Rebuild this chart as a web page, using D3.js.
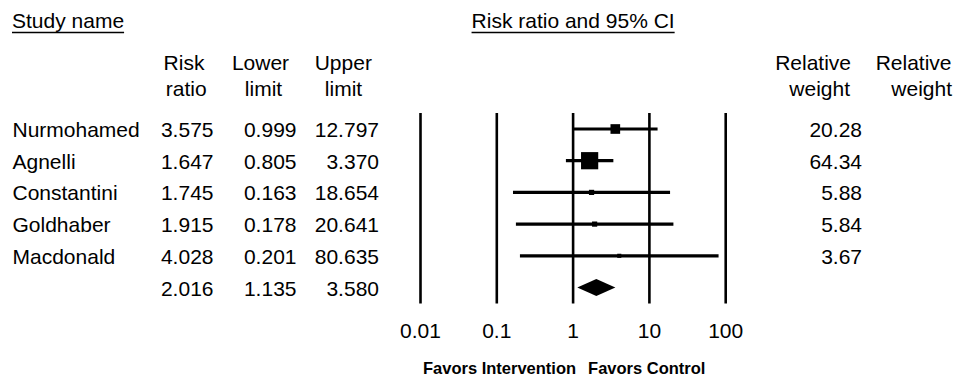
<!DOCTYPE html>
<html><head><meta charset="utf-8">
<script src="https://cdn.jsdelivr.net/npm/d3@7"></script>
<style>
html,body{margin:0;padding:0;background:#fff;}
svg{display:block;}
text{font-family:"Liberation Sans",Arial,Helvetica,sans-serif;fill:#000;}
</style></head>
<body>
<svg id="chart" width="959" height="378"></svg>
<script>
// ---- data ----
const studies      = ["Nurmohamed","Agnelli","Constantini","Goldhaber","Macdonald"];
const riskRatio    = [3.575, 1.647, 1.745, 1.915, 4.028];
const lowerLimit   = [0.999, 0.805, 0.163, 0.178, 0.201];
const upperLimit   = [12.797, 3.370, 18.654, 20.641, 80.635];
const relWeight    = [20.28, 64.34, 5.88, 5.84, 3.67];
const summaryRR    = 2.016;
const summaryLower = 1.135;
const summaryUpper = 3.580;
const axisTicks    = [0.01, 0.1, 1, 10, 100];
const axisTickLabels = ["0.01","0.1","1","10","100"];

// ---- layout ----
const svg = d3.select("#chart");
const FS = 21;
const x = d3.scaleLog().domain([0.01, 100]).range([420.5, 725.7]);
const rowIdx = d3.range(studies.length + 1);
const y = d3.scalePoint().domain(rowIdx).range([129, 287.5]);
const base = i => y(i) + 8;

function txt(t, px, py, anchor, opts = {}) {
  return svg.append("text").attr("x", px).attr("y", py)
    .attr("text-anchor", anchor).attr("font-size", opts.size || FS)
    .attr("font-weight", opts.weight || "normal").text(t);
}
function underline(node, py) {
  const bb = node.node().getBBox();
  svg.append("line").attr("x1", bb.x).attr("x2", bb.x + bb.width)
    .attr("y1", py).attr("y2", py).attr("stroke", "#000").attr("stroke-width", 1.6);
}

// Top headers
underline(txt("Study name", 12, 28, "start"), 32.5);
underline(txt("Risk ratio and 95% CI", x(1), 28, "middle"), 32.5);

// Column headers
txt("Risk", 184, 70, "middle"); txt("ratio", 186.3, 96, "middle");
txt("Lower", 260.5, 70, "middle"); txt("limit", 263.5, 96, "middle");
txt("Upper", 343.3, 70, "middle"); txt("limit", 343.5, 96, "middle");
txt("Relative", 851, 70, "end"); txt("weight", 850, 96, "end");
txt("Relative", 951.5, 70, "end"); txt("weight", 952, 96, "end");

// Table rows
const fmt3 = d3.format(".3f"), fmt2 = d3.format(".2f");
studies.forEach((s, i) => {
  txt(s, 12.5, base(i), "start");
  txt(fmt3(riskRatio[i]), 213.5, base(i), "end");
  txt(fmt3(lowerLimit[i]), 296.5, base(i), "end");
  txt(fmt3(upperLimit[i]), 379, base(i), "end");
  txt(fmt2(relWeight[i]), 862, base(i), "end");
});
const si = studies.length;
txt(fmt3(summaryRR), 213.5, base(si), "end");
txt(fmt3(summaryLower), 296.5, base(si), "end");
txt(fmt3(summaryUpper), 379, base(si), "end");

// Reference vertical lines
svg.selectAll("line.ref").data(axisTicks).enter().append("line")
  .attr("class", "ref")
  .attr("x1", d => x(d)).attr("x2", d => x(d))
  .attr("y1", 113).attr("y2", 303.5)
  .attr("stroke", "#000").attr("stroke-width", 2.6);

// Tick labels
axisTicks.forEach((d, i) => txt(axisTickLabels[i], x(d), 338, "middle"));

// CI lines
svg.selectAll("line.ci").data(studies).enter().append("line")
  .attr("class", "ci")
  .attr("x1", (d, i) => x(lowerLimit[i])).attr("x2", (d, i) => x(upperLimit[i]))
  .attr("y1", (d, i) => y(i)).attr("y2", (d, i) => y(i))
  .attr("stroke", "#000").attr("stroke-width", 3.2);

// Squares
const side = d3.scaleSqrt().domain([0, 64.34]).range([0, 17.2]);
svg.selectAll("rect.pt").data(studies).enter().append("rect")
  .attr("class", "pt")
  .attr("x", (d, i) => x(riskRatio[i]) - side(relWeight[i]) / 2)
  .attr("y", (d, i) => y(i) - side(relWeight[i]) / 2)
  .attr("width", (d, i) => side(relWeight[i]))
  .attr("height", (d, i) => side(relWeight[i]))
  .attr("fill", "#000");

// Summary diamond
const dy = y(si), hh = 8.5;
svg.append("path")
  .attr("d", `M${x(summaryLower)},${dy} L${x(summaryRR)},${dy - hh} L${x(summaryUpper)},${dy} L${x(summaryRR)},${dy + hh} Z`)
  .attr("fill", "#000");

// Footer
txt("Favors Intervention", x(1) + 3, 374, "end", {size: 16.5, weight: "bold"});
txt("Favors Control", x(1) + 15, 374, "start", {size: 16.5, weight: "bold"});
</script>
</body></html>
